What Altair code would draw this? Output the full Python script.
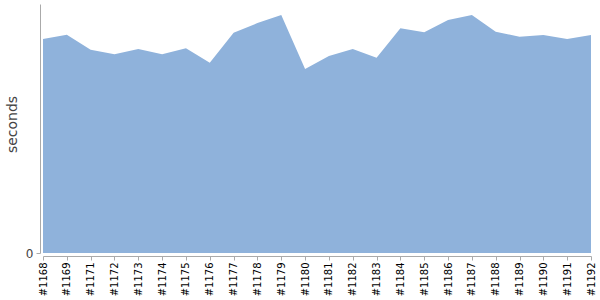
import altair as alt
import pandas as pd

builds = ["#1168", "#1169", "#1171", "#1172", "#1173", "#1174", "#1175", "#1176",
          "#1177", "#1178", "#1179", "#1180", "#1181", "#1182", "#1183", "#1184",
          "#1185", "#1186", "#1187", "#1188", "#1189", "#1190", "#1191", "#1192"]
seconds = [214.0, 218.3, 203.3, 198.7, 204.0, 198.7, 204.7, 190.3,
           220.3, 229.9, 238.0, 184.0, 197.0, 204.0, 195.3, 224.7,
           220.7, 233.0, 238.0, 221.3, 216.3, 218.0, 214.0, 218.0]

df = pd.DataFrame({"build": builds, "seconds": seconds})

chart = alt.Chart(df).mark_area(color="#8fb2db", opacity=1).encode(
    x=alt.X("build:O", sort=None,
            scale=alt.Scale(type="point", padding=0),
            axis=alt.Axis(title=None, labelAngle=270, offset=3, domainColor="#aaaaaa",
                          tickColor="#aaaaaa", tickSize=4, labelPadding=2,
                          labelColor="#000000", labelFontSize=10, labelFont="DejaVu Sans",
                          grid=False)),
    y=alt.Y("seconds:Q", scale=alt.Scale(domain=[0, 249], nice=False, zero=True),
            axis=alt.Axis(title="seconds", values=[0], offset=3, domainColor="#aaaaaa",
                          tickColor="#aaaaaa", tickSize=4, labelPadding=3,
                          labelColor="#444444", labelFontSize=12, labelFont="DejaVu Sans",
                          titleFont="DejaVu Sans", titleFontSize=14, titleFontWeight="normal",
                          titleColor="#444444", titlePadding=6, titleY=120, grid=False)),
).properties(
    width=548, height=249,
    autosize=alt.AutoSizeParams(type="none"),
    padding={"left": 43, "top": 4, "right": 9, "bottom": 47},
).configure_view(stroke=None)

chart.save("out.html", embed_options={"renderer": "svg", "actions": False})
